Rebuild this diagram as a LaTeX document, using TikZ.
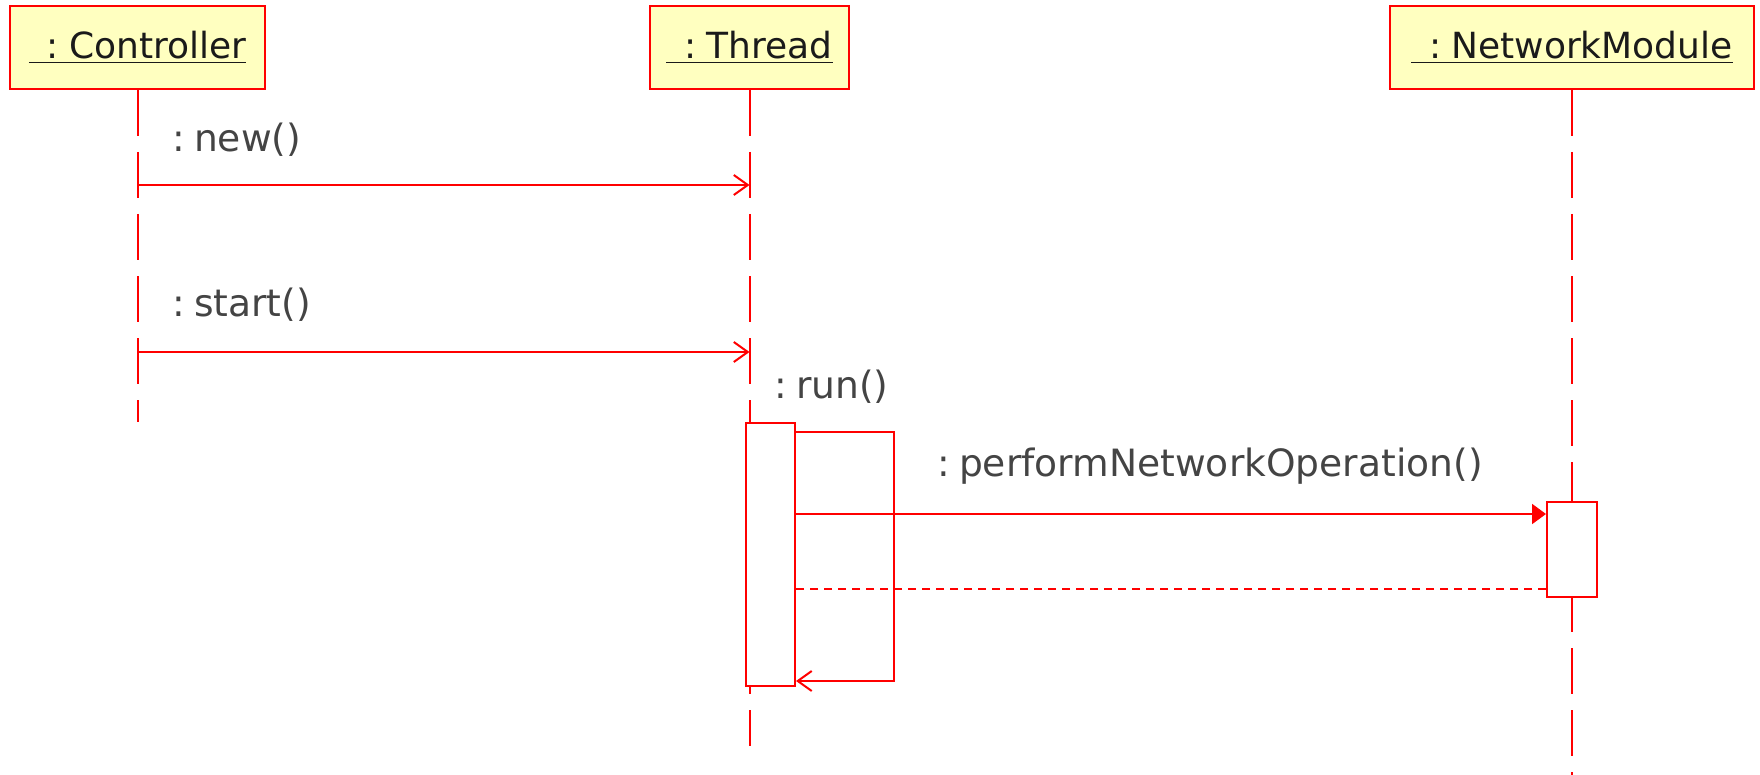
\documentclass[tikz,border=0pt]{standalone}
\usepackage{fontspec}
\setmainfont{DejaVu Sans}
\usetikzlibrary{arrows.meta}
\definecolor{boxfill}{HTML}{FFFFC0}
\definecolor{umlred}{HTML}{FF0000}
\definecolor{labelgray}{HTML}{444444}
\definecolor{boxtext}{HTML}{1A1A1A}
\tikzset{
  objbox/.style={draw=umlred, line width=1pt, fill=boxfill, minimum height=41.5pt, inner sep=0pt, text=boxtext, font=\fontsize{18pt}{22pt}\selectfont},
  lifeline/.style={draw=umlred, line width=1pt, dash pattern=on 23pt off 8pt},
  actbox/.style={draw=umlred, line width=1pt, fill=white},
  msg/.style={draw=umlred, line width=1pt, -{Straight Barb[length=7pt,width=10pt,line width=1pt]}},
  syncmsg/.style={draw=umlred, line width=1pt, -{Triangle[length=7pt,width=10pt]}},
  retmsg/.style={draw=umlred, line width=1pt, dash pattern=on 4pt off 3pt},
  msglabel/.style={text=labelgray, anchor=west, inner sep=0pt, font=\fontsize{18.8pt}{22pt}\selectfont}
}
\newcommand{\objname}[1]{\underline{\hspace{0.5em}:\hspace{0.28em}#1}}
\newcommand{\msgname}[1]{:\hspace{0.24em}#1}
\begin{document}
\begin{tikzpicture}[x=0.5pt,y=-0.5pt]
\useasboundingbox (0,0) rectangle (1760,775);
% objects
\node[objbox, minimum width=127.5pt] (ctrl) at (137.5,47.5) {\objname{Controller}};
\node[objbox, minimum width=99.5pt] (thr) at (749.5,47.5) {\objname{Thread}};
\node[objbox, minimum width=182pt] (nm) at (1572,47.5) {\objname{NetworkModule}};
% lifeline ends
\coordinate (ctrlend) at (ctrl.south |- 0,422);
\coordinate (thrend) at (thr.south |- 0,746);
\coordinate (nmend) at (nm.south |- 0,775);
\draw[lifeline] (ctrl.south) -- (ctrlend);
\draw[lifeline] (thr.south) -- (thrend);
\draw[lifeline] (nm.south) -- (nmend);
% activations
\node[actbox, minimum width=24.5pt, minimum height=131.5pt, inner sep=0pt, anchor=north] (thract) at (770.5,422) {};
\node[actbox, minimum width=25pt, minimum height=47.5pt, inner sep=0pt, anchor=north] (nmact) at (1572,501) {};
% message points
\coordinate (c1) at (ctrl.south |- 0,185);
\coordinate (t1) at (thr.south |- 0,185);
\coordinate (c2) at (ctrl.south |- 0,352);
\coordinate (t2) at (thr.south |- 0,352);
\draw[msg] (c1) -- (t1);
\draw[msg] (c2) -- (t2);
\node[msglabel] (lnew) at (172,140) {\msgname{new()}};
\node[msglabel] (lstart) at (172,305) {\msgname{start()}};
% self call
\coordinate (r1) at (thract.east |- 0,432);
\coordinate (r2) at (894,432);
\coordinate (r3) at (894,681);
\coordinate (r4) at (thract.east |- 0,681);
\draw[msg] (r1) -- (r2) -- (r3) -- (r4);
\node[msglabel] (lrun) at (774,387) {\msgname{run()}};
% sync call
\coordinate (p1) at (thract.east |- 0,514);
\coordinate (p2) at (nmact.west |- 0,514);
\draw[syncmsg] (p1) -- (p2);
\node[msglabel] (lperf) at (937,466) {\msgname{performNetworkOperation()}};
% return
\coordinate (q1) at (nmact.west |- 0,589);
\coordinate (q2) at (thract.east |- 0,589);
\draw[retmsg] (q1) -- (q2);
\end{tikzpicture}
\end{document}
